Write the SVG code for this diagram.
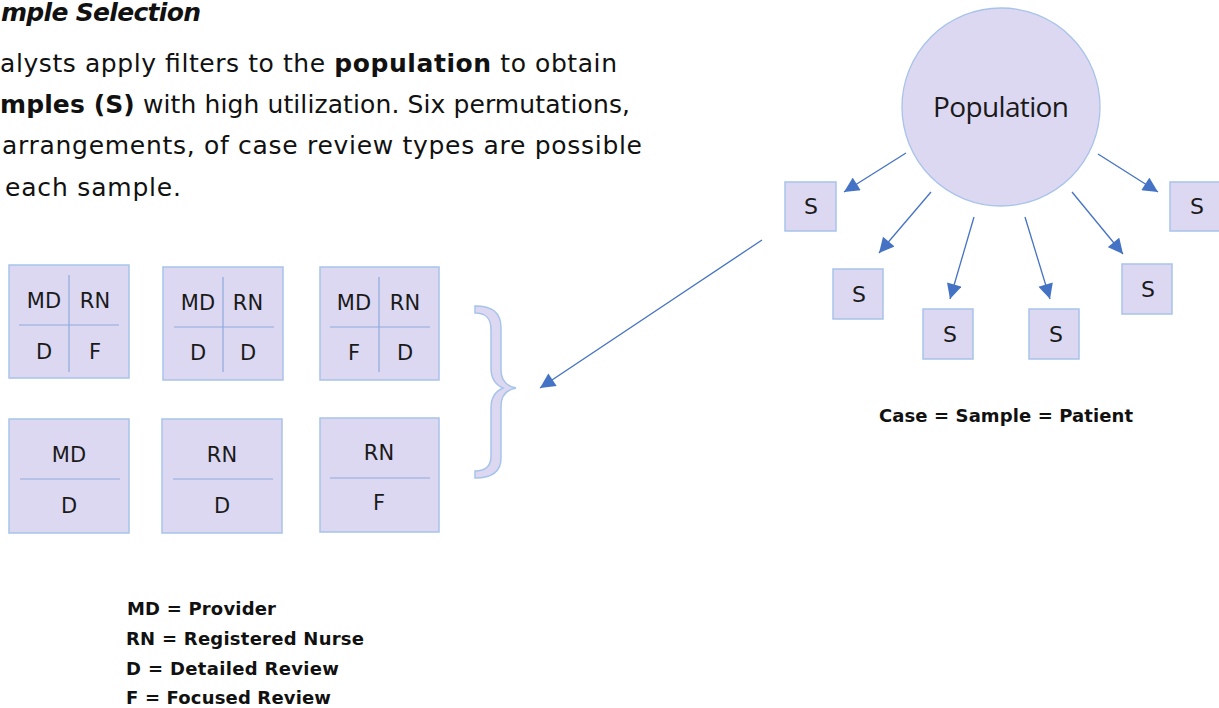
<svg xmlns="http://www.w3.org/2000/svg" width="1219" height="708" viewBox="0 0 1219 708">
<defs>
<style>
.box{fill:#dcd8f2;stroke:#a8c3ea;stroke-width:1.5}
.div{stroke:#8eaadb;stroke-width:1.2}
.lbl{font-family:"DejaVu Sans","Liberation Sans",sans-serif;font-size:21px;fill:#1a1a1a;text-anchor:middle}
.s{font-family:"DejaVu Sans","Liberation Sans",sans-serif;font-size:22px;fill:#1a1a1a;text-anchor:middle}
.body{font-family:"DejaVu Sans","Liberation Sans",sans-serif;font-size:25px;fill:#111}
.b{font-weight:bold}
.leg{font-family:"DejaVu Sans","Liberation Sans",sans-serif;font-size:18px;font-weight:bold;fill:#111}
.conn{stroke:#4472c4;stroke-width:1.3;fill:none;marker-end:url(#ah)}
</style>
<marker id="ah" viewBox="0 0 10 10" markerWidth="16" markerHeight="15" refX="10" refY="5" orient="auto" markerUnits="userSpaceOnUse">
<path d="M0,0 L10,5 L0,10 z" fill="#4472c4"/>
</marker>
</defs>
<rect width="1219" height="708" fill="#fff"/>

<g id="intro">
<text class="body b" x="1" y="21" font-style="italic" font-size="21" textLength="200">mple Selection</text>
<text class="body" x="0" y="72" textLength="617">alysts apply filters to the <tspan class="b">population</tspan> to obtain</text>
<text class="body" x="0" y="113" textLength="630"><tspan class="b">mples (S)</tspan> with high utilization. Six permutations,</text>
<text class="body" x="2" y="154" textLength="640">arrangements, of case review types are possible</text>
<text class="body" x="5" y="196" textLength="176">each sample.</text>
</g>

<g id="perm1">
<rect class="box" x="9" y="265" width="120" height="113"/>
<line class="div" x1="69" y1="275" x2="69" y2="372"/>
<line class="div" x1="19" y1="325" x2="119" y2="325"/>
<text class="lbl" x="44" y="308">MD</text><text class="lbl" x="95" y="308">RN</text>
<text class="lbl" x="44" y="359">D</text><text class="lbl" x="95" y="359">F</text>
</g>
<g id="perm2">
<rect class="box" x="163" y="267" width="120" height="113"/>
<line class="div" x1="223" y1="277" x2="223" y2="372"/>
<line class="div" x1="174" y1="327" x2="274" y2="327"/>
<text class="lbl" x="198" y="310">MD</text><text class="lbl" x="248" y="310">RN</text>
<text class="lbl" x="198" y="360">D</text><text class="lbl" x="248" y="360">D</text>
</g>
<g id="perm3">
<rect class="box" x="320" y="267" width="119" height="113"/>
<line class="div" x1="379" y1="277" x2="379" y2="372"/>
<line class="div" x1="330" y1="327" x2="430" y2="327"/>
<text class="lbl" x="354" y="310">MD</text><text class="lbl" x="405" y="310">RN</text>
<text class="lbl" x="354" y="360">F</text><text class="lbl" x="405" y="360">D</text>
</g>
<g id="perm4">
<rect class="box" x="9" y="419" width="120" height="114"/>
<line class="div" x1="20" y1="479" x2="120" y2="479"/>
<text class="lbl" x="69" y="462">MD</text>
<text class="lbl" x="69" y="513">D</text>
</g>
<g id="perm5">
<rect class="box" x="162" y="419" width="120" height="114"/>
<line class="div" x1="173" y1="479" x2="273" y2="479"/>
<text class="lbl" x="222" y="462">RN</text>
<text class="lbl" x="222" y="513">D</text>
</g>
<g id="perm6">
<rect class="box" x="320" y="418" width="119" height="114"/>
<line class="div" x1="330" y1="478" x2="430" y2="478"/>
<text class="lbl" x="379" y="460">RN</text>
<text class="lbl" x="379" y="510">F</text>
</g>

<g id="brace">
<path class="box" d="M475,306 C492,306 501,312 501,328 L501,370 C501,380 506,386 516,388 C506,390 501,396 501,406 L501,458 C501,472 492,478 475,478 L475,471 C486,471 491,466 491,456 L491,408 C491,396 496,391 503,388 C496,385 491,380 491,368 L491,330 C491,318 486,313 475,313 Z"/>
</g>

<g id="population">
<circle cx="1001" cy="107" r="99" fill="#dcd8f2" stroke="#a8c3ea" stroke-width="1.3"/>
<text x="1001" y="117" font-family="'Open Sans','Liberation Sans',sans-serif" font-size="28" fill="#1a1a1a" text-anchor="middle" textLength="136">Population</text>
</g>
<g id="s1"><rect class="box" x="785" y="182" width="51" height="49"/><text class="s" x="811" y="214">S</text></g>
<g id="s2"><rect class="box" x="833" y="269" width="50" height="50"/><text class="s" x="859" y="302">S</text></g>
<g id="s3"><rect class="box" x="923" y="309" width="50" height="50"/><text class="s" x="950" y="342">S</text></g>
<g id="s4"><rect class="box" x="1029" y="309" width="50" height="50"/><text class="s" x="1056" y="342">S</text></g>
<g id="s5"><rect class="box" x="1122" y="264" width="50" height="50"/><text class="s" x="1148" y="297">S</text></g>
<g id="s6"><rect class="box" x="1170" y="182" width="50" height="49"/><text class="s" x="1197" y="214">S</text></g>

<g id="connectors">
<line class="conn" x1="906" y1="153" x2="844" y2="192"/>
<line class="conn" x1="931" y1="192" x2="879" y2="253"/>
<line class="conn" x1="974" y1="217" x2="950" y2="299"/>
<line class="conn" x1="1025" y1="217" x2="1050" y2="299"/>
<line class="conn" x1="1072" y1="192" x2="1123" y2="254"/>
<line class="conn" x1="1098" y1="154" x2="1158" y2="192"/>
<line class="conn" x1="762" y1="240" x2="540" y2="388"/>
</g>

<g id="caption">
<text class="leg" x="879" y="422" textLength="254">Case = Sample = Patient</text>
</g>
<g id="legend">
<text class="leg" x="127" y="615" textLength="149">MD = Provider</text>
<text class="leg" x="126" y="645" textLength="238">RN = Registered Nurse</text>
<text class="leg" x="126" y="675" textLength="213">D = Detailed Review</text>
<text class="leg" x="126" y="704" textLength="205">F = Focused Review</text>
</g>
</svg>
